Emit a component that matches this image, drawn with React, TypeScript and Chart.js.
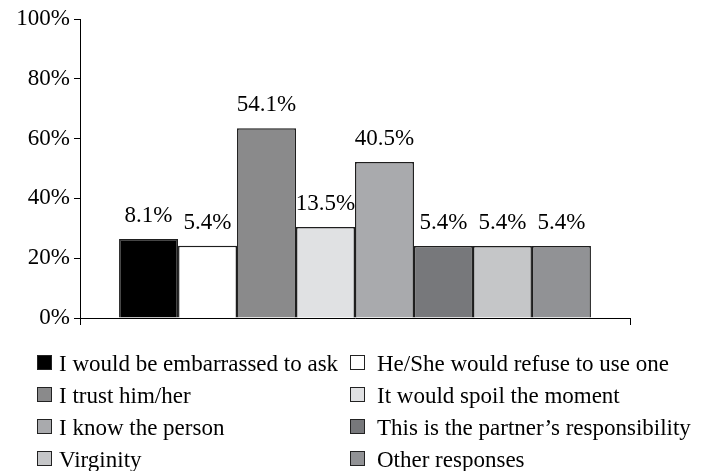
import React, { useEffect, useRef } from "react";
import { Chart, registerables } from "chart.js";

Chart.register(...registerables);

const groupLabel = [""];
const categories = [
  "I would be embarrassed to ask",
  "He/She would refuse to use one",
  "I trust him/her",
  "It would spoil the moment",
  "I know the person",
  "This is the partner\u2019s responsibility",
  "Virginity",
  "Other responses",
];
const barHeights = [26.4, 24.2, 63.5, 30.4, 52.2, 24.1, 24.1, 24.1];
const valueLabels = ["8.1%", "5.4%", "54.1%", "13.5%", "40.5%", "5.4%", "5.4%", "5.4%"];
const yTicks = [0, 20, 40, 60, 80, 100];

const barColors = ["#000000", "#ffffff", "#8a8a8b", "#e0e1e3", "#a9aaad", "#77787b", "#c5c6c8", "#919295"];
const FONT = '"Liberation Serif", "Times New Roman", serif';

const labelPlugin = {
  id: "valueLabels",
  afterDatasetsDraw(chart: any) {
    const ctx = chart.ctx;
    ctx.save();
    ctx.font = `23px ${FONT}`;
    ctx.fillStyle = "#000";
    ctx.textAlign = "center";
    ctx.textBaseline = "alphabetic";
    chart.data.datasets.forEach((ds: any, i: number) => {
      const meta = chart.getDatasetMeta(i);
      const el = meta.data[0];
      if (!el) return;
      ctx.fillText(valueLabels[i], el.x, el.y - 17);
    });
    ctx.restore();
  },
};

const legendPlugin = {
  id: "gridLegend",
  afterDraw(chart: any) {
    const ctx = chart.ctx;
    ctx.save();
    ctx.font = `23px ${FONT}`;
    ctx.textBaseline = "alphabetic";
    ctx.textAlign = "left";
    const cols = [
      { box: 37.5, text: 59 },
      { box: 350.5, text: 377 },
    ];
    categories.forEach((name, i) => {
      const col = cols[i % 2];
      const row = Math.floor(i / 2);
      const base = 371 + row * 32;
      const top = base - 15.5;
      ctx.fillStyle = barColors[i];
      ctx.fillRect(col.box, top, 14, 14);
      ctx.strokeStyle = "#222";
      ctx.lineWidth = 1;
      ctx.strokeRect(col.box, top, 14, 14);
      ctx.fillStyle = "#000";
      ctx.fillText(name, col.text, base);
    });
    ctx.restore();
  },
};

export default function App() {
  const ref = useRef<HTMLCanvasElement | null>(null);
  useEffect(() => {
    if (!ref.current) return;
    const chart = new Chart(ref.current, {
      type: "bar",
      data: {
        labels: groupLabel,
        datasets: categories.map((name, i) => ({
          label: name,
          data: [barHeights[i]],
          backgroundColor: barColors[i],
          borderColor: "#1e1e1e",
          borderWidth: 1.5,
          categoryPercentage: 0.858,
          barPercentage: 1,
        })),
      },
      options: {
        responsive: false,
        animation: false,
        devicePixelRatio: 1,
        layout: { padding: { left: 0, right: 79, top: 19, bottom: 143 } },
        plugins: {
          legend: { display: false },
          tooltip: { enabled: false },
        },
        scales: {
          x: {
            afterFit: (s: any) => {
              s.height = 10;
            },
            grid: {
              offset: true,
              drawOnChartArea: false,
              drawTicks: true,
              tickLength: 7,
              color: "#000",
            },
            border: { display: true, color: "#000", width: 1 },
            ticks: { display: false },
          },
          y: {
            min: 0,
            max: 100,
            afterFit: (s: any) => {
              s.width = 80;
            },
            afterBuildTicks: (s: any) => {
              s.ticks = yTicks.map((v) => ({ value: v }));
            },
            grid: {
              drawOnChartArea: false,
              drawTicks: true,
              tickLength: 6,
              color: "#000",
            },
            border: { display: true, color: "#000", width: 1 },
            ticks: {
              color: "#000",
              padding: 4,
              font: { family: FONT, size: 23 },
              callback: (v: any) => `${v}%`,
            },
          },
        },
      },
      plugins: [labelPlugin, legendPlugin],
    });
    return () => chart.destroy();
  }, []);
  return (
    <div style={{ position: "fixed", left: 0, top: 0, width: 709, height: 471, background: "#fff" }}>
      <canvas ref={ref} width={709} height={471} style={{ display: "block", width: 709, height: 471 }} />
    </div>
  );
}
